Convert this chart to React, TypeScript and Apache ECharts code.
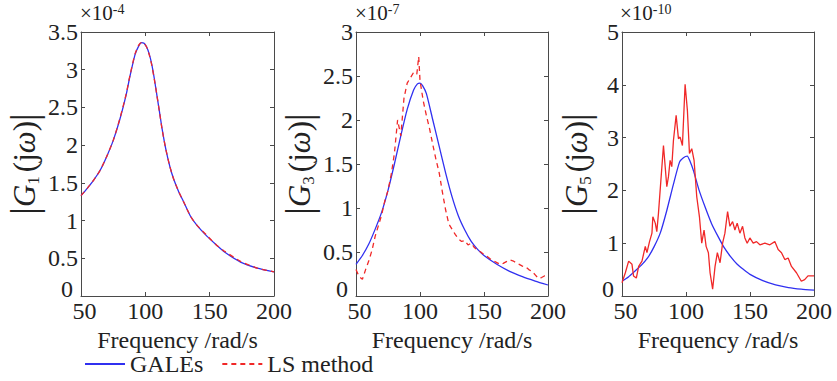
import React, { useEffect, useRef } from 'react';
import * as echarts from 'echarts';

// ---------- data (values in units of the panel multiplier) ----------
const xTicks = [50, 100, 150, 200];
const yMax = [3.5, 3, 5];
const yStep = [0.5, 0.5, 1];
const multipliers = ['-4', '-7', '-10'];
const subscripts = ['1', '3', '5'];

const freq1 = [50, 55, 60, 65, 70, 75, 80, 85, 88, 92, 95, 97, 99, 101, 103, 105, 107, 109, 111, 113, 116, 119, 122, 126, 130, 135, 140, 148, 155, 161, 174, 187, 200];
const gales1 = [1.33, 1.43, 1.54, 1.67, 1.85, 2.06, 2.33, 2.66, 2.91, 3.2, 3.32, 3.36, 3.35, 3.3, 3.21, 3.07, 2.88, 2.66, 2.44, 2.22, 1.94, 1.72, 1.55, 1.38, 1.24, 1.06, 0.94, 0.79, 0.68, 0.59, 0.45, 0.37, 0.32];
const ls1 = [1.33, 1.43, 1.54, 1.67, 1.85, 2.06, 2.34, 2.67, 2.92, 3.21, 3.33, 3.36, 3.35, 3.3, 3.2, 3.06, 2.87, 2.66, 2.44, 2.21, 1.94, 1.72, 1.55, 1.38, 1.24, 1.06, 0.94, 0.8, 0.68, 0.6, 0.46, 0.37, 0.32];

const freq3 = [50, 55, 60, 65, 70, 75, 80, 85, 90, 95, 98, 100, 102, 105, 110, 115, 120, 125, 130, 135, 140, 145, 150, 160, 170, 180, 190, 200];
const gales3 = [0.36, 0.46, 0.59, 0.76, 0.95, 1.2, 1.5, 1.82, 2.12, 2.34, 2.41, 2.42, 2.39, 2.3, 2.0, 1.7, 1.4, 1.13, 0.91, 0.75, 0.62, 0.53, 0.46, 0.36, 0.28, 0.22, 0.17, 0.125];
const freq3ls = [50, 52.5, 55, 57.5, 60, 62.5, 65, 67.5, 70, 72.5, 75, 77.5, 80, 82.5, 85, 87.5, 90, 92.5, 95, 97.5, 99, 100, 102.5, 105, 107.5, 110, 112.5, 115, 117.5, 120, 122.5, 125, 127.5, 130, 132.5, 135, 137.5, 140, 142.5, 145, 147.5, 150, 152.5, 155, 157.5, 160, 162.5, 165, 167.5, 170, 172.5, 175, 177.5, 180, 182.5, 185, 187.5, 190, 192.5, 195, 197.5, 200];
const ls3 = [0.3, 0.22, 0.19, 0.3, 0.4, 0.52, 0.68, 0.8, 0.92, 1.08, 1.2, 1.38, 1.62, 2.0, 1.82, 2.25, 2.42, 2.48, 2.54, 2.52, 2.72, 2.45, 2.22, 2.05, 1.9, 1.72, 1.55, 1.4, 1.18, 0.98, 0.82, 0.76, 0.7, 0.65, 0.62, 0.63, 0.58, 0.6, 0.55, 0.52, 0.5, 0.47, 0.45, 0.42, 0.4, 0.38, 0.36, 0.37, 0.39, 0.41, 0.4, 0.38, 0.36, 0.34, 0.33, 0.3, 0.28, 0.24, 0.2, 0.21, 0.23, 0.24];

const freq5 = [50, 55, 60, 65, 70, 75, 80, 85, 90, 95, 98, 101, 103, 106, 110, 115, 120, 125, 130, 135, 140, 145, 150, 160, 170, 180, 190, 200];
const gales5 = [0.28, 0.36, 0.47, 0.58, 0.72, 0.93, 1.2, 1.62, 2.1, 2.54, 2.62, 2.65, 2.56, 2.36, 2.02, 1.68, 1.37, 1.13, 0.91, 0.74, 0.6, 0.5, 0.41, 0.29, 0.21, 0.16, 0.13, 0.11];
const freq5ls = [50, 52.6, 55.2, 57.8, 59, 61.2, 63, 65.6, 68.2, 69.5, 71.5, 73.4, 74.1, 76, 77.2, 78.5, 79.8, 82.4, 85, 86.3, 87.6, 88.9, 90.2, 92.3, 94.1, 95.4, 97.2, 99.3, 101.1, 102.7, 104.5, 106.3, 108.4, 110.5, 112.3, 114.1, 115.7, 117.5, 118.8, 120.8, 122.7, 124.5, 126.6, 128.6, 130.4, 132.5, 134.3, 136.4, 138.2, 140, 142.1, 144.2, 146, 147.8, 149.9, 152.5, 155.1, 157.7, 161.6, 165.5, 169.4, 172, 174.6, 177.2, 179.8, 182.4, 186.3, 190.1, 192.7, 195.3, 200];
const ls5 = [0.25, 0.44, 0.66, 0.6, 0.38, 0.34, 0.56, 0.66, 0.94, 0.82, 1.03, 1.19, 1.5, 1.38, 1.22, 1.57, 2.0, 2.85, 2.07, 2.26, 2.57, 2.45, 2.95, 3.42, 2.98, 3.01, 2.85, 4.01, 3.51, 2.7, 2.79, 2.57, 1.88, 1.5, 1.0, 1.25, 0.94, 0.82, 0.44, 0.13, 0.56, 0.82, 0.63, 1.0, 1.19, 1.6, 1.32, 1.41, 1.25, 1.38, 1.19, 1.32, 1.1, 1.0, 1.1, 1.0, 1.03, 0.97, 1.0, 0.97, 1.03, 0.88, 0.82, 0.69, 0.72, 0.56, 0.44, 0.28, 0.31, 0.38, 0.38];

const FONT = 'Liberation Serif';
const BLUE = '#3030f0';
const RED = '#f02828';
const AX = '#4a4a4a';
const TXT = '#222222';

const zip = (xs: number[], ys: number[]) => xs.map((x, i) => [x, ys[i]]);

export default function App() {
  const ref = useRef<HTMLDivElement>(null);
  useEffect(() => {
    const chart = echarts.init(ref.current!, null, { renderer: 'svg' });
    const gridPos = [
      { left: 81, width: 193 },
      { left: 356, width: 192 },
      { left: 622, width: 192 },
    ];
    const nameGaps = [31, 33, 26];
    const multX = [80, 355, 620];
    const grid = gridPos.map((g) => ({ ...g, top: 32, height: 264 }));

    const xAxis: any[] = [];
    const yAxis: any[] = [];
    for (let i = 0; i < 3; i++) {
      xAxis.push({
        type: 'value', gridIndex: i, min: xTicks[0], max: xTicks[xTicks.length - 1], interval: xTicks[1] - xTicks[0],
        axisLine: { show: true, onZero: false, lineStyle: { color: AX, width: 1 } },
        axisTick: { show: true, inside: true, length: 4, lineStyle: { color: AX } },
        axisLabel: {
          fontFamily: FONT, fontSize: 24, margin: 3, color: TXT,
          formatter: (v: number) => (v === xTicks[0] ? `{m|${v}}` : `{n|${v}}`),
          rich: {
            m: { fontFamily: FONT, fontSize: 24, color: TXT, padding: [0, 0, 0, 7] },
            n: { fontFamily: FONT, fontSize: 24, color: TXT },
          },
        },
        splitLine: { show: false },
        name: '{n|Frequency /rad/s}', nameLocation: 'middle', nameGap: 25,
        nameTextStyle: { fontFamily: FONT, fontSize: 24, color: TXT, rich: { n: { fontFamily: FONT, fontSize: 24, color: TXT } } },
      });
      yAxis.push({
        type: 'value', gridIndex: i, min: 0, max: yMax[i], interval: yStep[i],
        axisLine: { show: true, onZero: false, lineStyle: { color: AX, width: 1 } },
        axisTick: { show: true, inside: true, length: 4, lineStyle: { color: AX } },
        axisLabel: {
          fontFamily: FONT, fontSize: 24, margin: 3, color: TXT,
          formatter: (v: number) => (v === 0 ? '{z|0}' : `{n|${v}}`),
          rich: {
            z: { fontFamily: FONT, fontSize: 24, color: TXT, padding: [0, 5, 14, 0] },
            n: { fontFamily: FONT, fontSize: 24, color: TXT },
          },
        },
        splitLine: { show: false },
        name: `{b||}{g|G}{s|${subscripts[i]}}{t|(j}{w|ω}{t|)}{b||}`,
        nameLocation: 'middle', nameRotate: 90, nameGap: nameGaps[i],
        nameTextStyle: {
          fontFamily: FONT, color: TXT,
          rich: {
            b: { fontSize: 38, lineHeight: 40, fontFamily: FONT, color: TXT },
            g: { fontSize: 31, lineHeight: 40, fontStyle: 'italic', fontFamily: FONT, color: TXT },
            s: { fontSize: 17, lineHeight: 17, verticalAlign: 'bottom', fontFamily: FONT, color: TXT, padding: [0, 4, 2, 0] },
            t: { fontSize: 31, lineHeight: 40, fontFamily: FONT, color: TXT },
            w: { fontSize: 31, lineHeight: 40, fontStyle: 'italic', fontFamily: FONT, color: TXT },
          },
        },
      });
    }
    for (let i = 0; i < 3; i++) {
      xAxis.push({
        type: 'value', gridIndex: i, position: 'top', min: xTicks[0], max: xTicks[xTicks.length - 1], interval: xTicks[1] - xTicks[0],
        axisLine: { show: true, onZero: false, lineStyle: { color: AX, width: 1 } },
        axisTick: { show: true, inside: true, length: 4, lineStyle: { color: AX } },
        axisLabel: { show: false }, splitLine: { show: false },
      });
      yAxis.push({
        type: 'value', gridIndex: i, position: 'right', min: 0, max: yMax[i], interval: yStep[i],
        axisLine: { show: true, onZero: false, lineStyle: { color: AX, width: 1 } },
        axisTick: { show: true, inside: true, length: 4, lineStyle: { color: AX } },
        axisLabel: { show: false }, splitLine: { show: false },
      });
    }

    const blue = (i: number, data: number[][]) => ({
      type: 'line', name: 'GALEs', xAxisIndex: i, yAxisIndex: i, data, symbol: 'none', smooth: 0.2,
      lineStyle: { color: BLUE, width: 1.3 }, itemStyle: { color: BLUE },
    });
    const red = (i: number, data: number[][], dashed: boolean, smooth: number | boolean) => ({
      type: 'line', name: 'LS method', xAxisIndex: i, yAxisIndex: i, data, symbol: 'none', smooth,
      lineStyle: { color: RED, width: 1.3, type: dashed ? [5, 4] : 'solid' }, itemStyle: { color: RED },
    });

    const graphic = multipliers.map((m, i) => ({
      type: 'text', x: multX[i], y: 2,
      style: {
        text: `{a|×10}{e|${m}}`,
        fontFamily: FONT, fontSize: 21, fill: TXT,
        rich: {
          a: { fontSize: 21, lineHeight: 22, fontFamily: FONT, fill: TXT },
          e: { fontSize: 14, lineHeight: 12, verticalAlign: 'top', fontFamily: FONT, fill: TXT },
        },
      },
    }));

    chart.setOption({
      animation: false,
      textStyle: { fontFamily: FONT },
      grid,
      xAxis,
      yAxis,
      legend: {
        data: ['GALEs', 'LS method'], left: 84, top: 352, padding: 0, itemWidth: 40, itemHeight: 14, itemGap: 18,
        itemStyle: { opacity: 0 },
        textStyle: { fontFamily: FONT, fontSize: 24, color: TXT },
      },
      graphic,
      series: [
        blue(0, zip(freq1, gales1)),
        red(0, zip(freq1, ls1), true, 0.2),
        blue(1, zip(freq3, gales3)),
        red(1, zip(freq3ls, ls3), true, false),
        blue(2, zip(freq5, gales5)),
        red(2, zip(freq5ls, ls5), false, false),
      ],
    });
    return () => chart.dispose();
  }, []);
  return (
    <>
      <style>{`#root svg text, #root svg tspan { font-family: 'Liberation Serif', 'Times New Roman', serif !important; }`}</style>
      <div ref={ref} style={{ position: 'fixed', left: 0, top: 0, width: 837, height: 381, background: '#fff' }} />
    </>
  );
}
